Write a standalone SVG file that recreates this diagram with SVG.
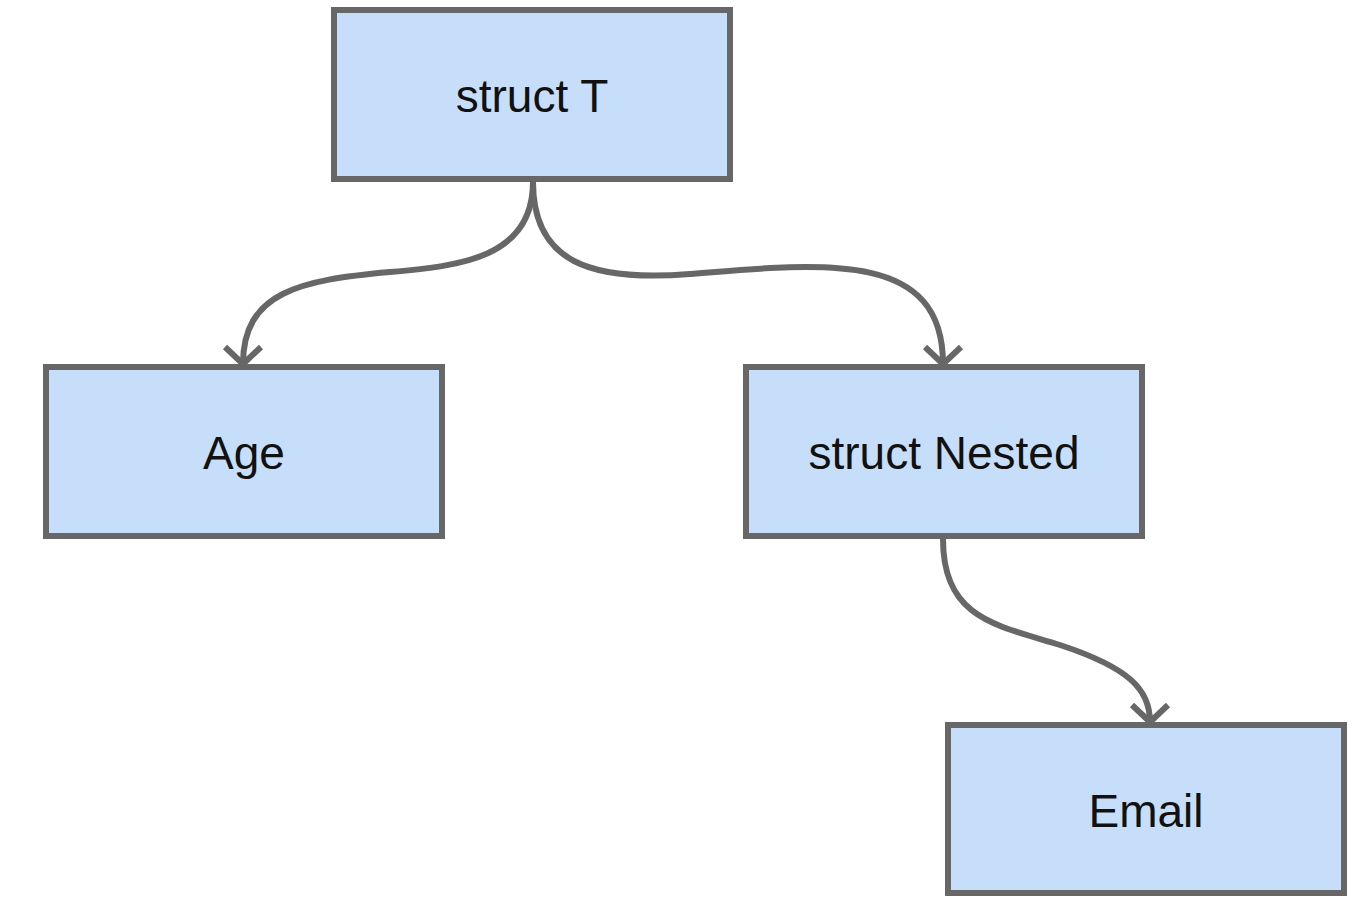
<svg xmlns="http://www.w3.org/2000/svg" width="1358" height="914" viewBox="0 0 1358 914">
<style>
.box{fill:#c6defa;stroke:#676767;stroke-width:6}
.lbl{font-family:"Liberation Sans",Arial,sans-serif;font-size:46px;fill:#111;text-anchor:middle}
.edge{fill:none;stroke:#676767;stroke-width:6}
</style>
<defs>
<marker id="arr" markerUnits="userSpaceOnUse" markerWidth="50" markerHeight="50" refX="25" refY="25" orient="auto" viewBox="0 0 50 50">
<path d="M8,7 L25,25 L8,43" fill="none" stroke="#676767" stroke-width="6"/>
</marker>
</defs>
<rect width="1358" height="914" fill="#fff"/>
<g id="connectors">
<path class="edge" marker-end="url(#arr)" d="M533,182 C533,258 460,266 390,272 C300,280 243,292 243,364"/>
<path class="edge" marker-end="url(#arr)" d="M533,182 C533,262 590,282 690,274 C830,262 943,252 943,364"/>
<path class="edge" marker-end="url(#arr)" d="M943,539 C943,618 995,625 1060,645 C1130,668 1150,690 1150,722"/>
</g>
<g id="node-struct-t"><rect class="box" x="334" y="10" width="396" height="169"/><text class="lbl" x="532" y="112">struct T</text></g>
<g id="node-age"><rect class="box" x="46" y="367" width="396" height="169"/><text class="lbl" x="244" y="469">Age</text></g>
<g id="node-struct-nested"><rect class="box" x="746" y="367" width="396" height="169"/><text class="lbl" x="944" y="469">struct Nested</text></g>
<g id="node-email"><rect class="box" x="948" y="725" width="396" height="168"/><text class="lbl" x="1146" y="827">Email</text></g>
</svg>
